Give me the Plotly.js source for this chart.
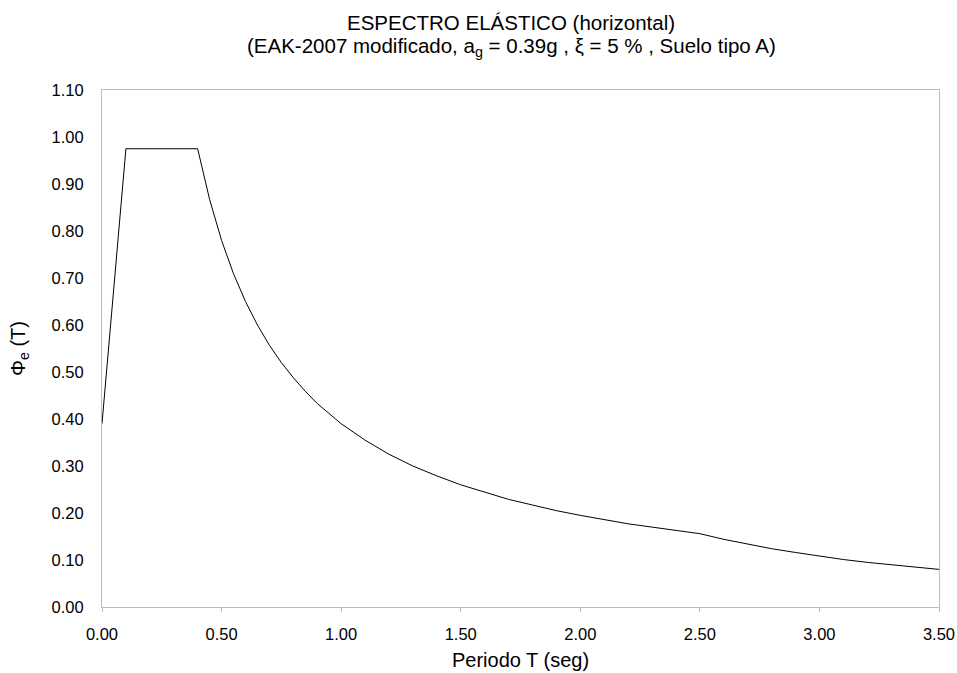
<!DOCTYPE html>
<html>
<head>
<meta charset="utf-8">
<script src="https://cdn.plot.ly/plotly-3.0.1.min.js"></script>
<style>body{margin:0;padding:0;background:#fff;}#chart{width:957px;height:673px;}</style>
</head>
<body>
<div id="chart"></div>
<script>
// Period T (s)
const periodT = [0.00, 0.10, 0.40, 0.45, 0.50, 0.55, 0.60, 0.65, 0.70, 0.75, 0.80, 0.85, 0.90, 0.95, 1.00,
  1.10, 1.20, 1.30, 1.40, 1.50, 1.60, 1.70, 1.80, 1.90, 2.00, 2.10, 2.20, 2.30, 2.40, 2.50,
  2.60, 2.70, 2.80, 2.90, 3.00, 3.10, 3.20, 3.30, 3.40, 3.50];
// Elastic spectrum Phi_e(T)
const phiE = [0.390, 0.975, 0.975, 0.867, 0.780, 0.709, 0.650, 0.600, 0.557, 0.520, 0.488, 0.459, 0.433, 0.411, 0.390,
  0.355, 0.325, 0.300, 0.279, 0.260, 0.244, 0.229, 0.217, 0.205, 0.195, 0.186, 0.177, 0.170, 0.163, 0.156,
  0.144, 0.134, 0.124, 0.116, 0.108, 0.101, 0.095, 0.090, 0.084, 0.080];

const titleLine1 = "ESPECTRO ELÁSTICO (horizontal)";
const titleLine2 = "(EAK-2007 modificado, a<sub>g</sub> = 0.39g , ξ = 5 % , Suelo tipo A)";
const xTitle = "Periodo T (seg)";
const yTitle = "Φ<sub>e</sub> (T)";

const font = "Liberation Sans, Arial, sans-serif";

Plotly.newPlot("chart", [{
  x: periodT, y: phiE, type: "scatter", mode: "lines",
  line: {color: "#000000", width: 1}, hoverinfo: "skip"
}], {
  width: 957, height: 673,
  margin: {l: 102, r: 18, t: 90, b: 66},
  paper_bgcolor: "#ffffff", plot_bgcolor: "#ffffff",
  showlegend: false,
  font: {family: font, color: "#000000", size: 16},
  annotations: [
    {text: titleLine1, xref: "paper", yref: "paper", x: 0.489, y: 1.1306, xanchor: "center", yanchor: "middle",
     showarrow: false, font: {family: font, size: 20.5, color: "#000"}},
    {text: titleLine2, xref: "paper", yref: "paper", x: 0.489, y: 1.083, xanchor: "center", yanchor: "middle",
     showarrow: false, font: {family: font, size: 20.5, color: "#000"}}
  ],
  xaxis: {
    range: [0, 3.5], dtick: 0.5, tick0: 0, tickformat: ".2f",
    showgrid: false, zeroline: false, showline: true, mirror: true,
    linecolor: "#bdbdbd", linewidth: 1,
    ticks: "outside", ticklen: 4, tickcolor: "#bdbdbd", ticklabelstandoff: 8,
    tickfont: {family: font, size: 16.5, color: "#000"},
    title: {text: xTitle, font: {family: font, size: 20, color: "#000"}, standoff: 11}
  },
  yaxis: {
    range: [0, 1.1], dtick: 0.1, tick0: 0, tickformat: ".2f",
    showgrid: false, zeroline: false, showline: true, mirror: true,
    linecolor: "#bdbdbd", linewidth: 1,
    ticks: "", ticklen: 0, ticklabelstandoff: 14,
    tickfont: {family: font, size: 16.5, color: "#000"},
    title: {text: yTitle, font: {family: font, size: 20, color: "#000"}, standoff: 20}
  }
}, {displayModeBar: false, staticPlot: true});
</script>
</body>
</html>
